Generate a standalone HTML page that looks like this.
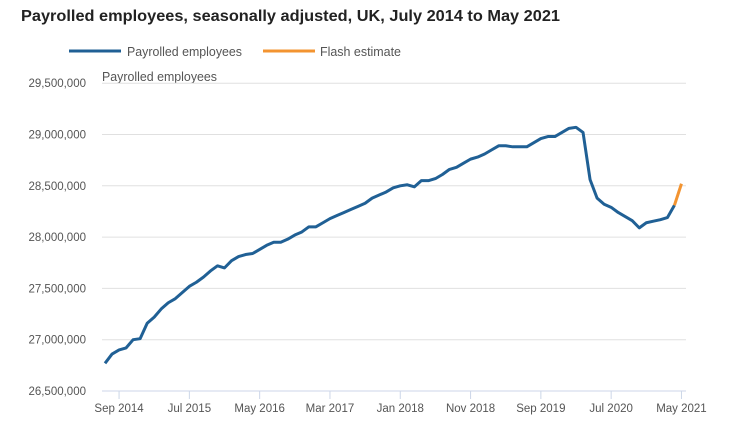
<!DOCTYPE html>
<html><head><meta charset="utf-8"><style>
body{margin:0;background:#fff;}
svg{display:block;font-family:"Liberation Sans",sans-serif;}
</style></head><body>
<svg id="chart" width="743" height="425" xmlns="http://www.w3.org/2000/svg">
<text x="21" y="21" font-size="16" font-weight="bold" fill="#222" textLength="539" lengthAdjust="spacingAndGlyphs">Payrolled employees, seasonally adjusted, UK, July 2014 to May 2021</text>
<g>
<g>
<line x1="69" y1="51" x2="121" y2="51" stroke="#206095" stroke-width="3"/>
<text x="127" y="56" font-size="13" fill="#555" textLength="115" lengthAdjust="spacingAndGlyphs">Payrolled employees</text></g>
<g>
<line x1="263" y1="51" x2="315" y2="51" stroke="#f39431" stroke-width="3"/>
<text x="320" y="56" font-size="13" fill="#555" textLength="81" lengthAdjust="spacingAndGlyphs">Flash estimate</text></g>
</g>
<text x="102" y="81" font-size="12.5" fill="#555" textLength="115" lengthAdjust="spacingAndGlyphs">Payrolled employees</text>
<g id="grid"></g><g id="yticks"></g><g id="xticks"></g><g id="series"></g>
</svg>
<script>
const yTicks=[26500000,27000000,27500000,28000000,28500000,29000000,29500000];
const yTickLabels=["26,500,000","27,000,000","27,500,000","28,000,000","28,500,000","29,000,000","29,500,000"];
const xTickMonths=[2,12,22,32,42,52,62,72,82];
const xTickLabels=["Sep 2014","Jul 2015","May 2016","Mar 2017","Jan 2018","Nov 2018","Sep 2019","Jul 2020","May 2021"];
const payrolled=[26.77,26.86,26.90,26.92,27.00,27.01,27.16,27.22,27.30,27.36,27.40,27.46,27.52,27.56,27.61,27.67,27.72,27.70,27.77,27.81,27.83,27.84,27.88,27.92,27.95,27.95,27.98,28.02,28.05,28.10,28.10,28.14,28.18,28.21,28.24,28.27,28.30,28.33,28.38,28.41,28.44,28.48,28.50,28.51,28.49,28.55,28.55,28.57,28.61,28.66,28.68,28.72,28.76,28.78,28.81,28.85,28.89,28.89,28.88,28.88,28.88,28.92,28.96,28.98,28.98,29.02,29.06,29.07,29.02,28.56,28.38,28.32,28.29,28.24,28.20,28.16,28.09,28.14,28.155,28.17,28.19,28.31];
const flash=[28.31,28.52];
const flashStart=81;
const NS="http://www.w3.org/2000/svg";
const X0=102,X1=686;
function xs(i){return 105+7.03*i;}
function ys(v){return 391-(v-26500000)/3000000*(391-83.2);}
function mk(t,a,p){const e=document.createElementNS(NS,t);for(const k in a)e.setAttribute(k,a[k]);p.appendChild(e);return e;}
const grid=document.getElementById('grid'),yt=document.getElementById('yticks'),xt=document.getElementById('xticks'),ser=document.getElementById('series');
yTicks.forEach((v,k)=>{
 const l=mk('line',{x1:X0,x2:X1,y1:ys(v),y2:ys(v),stroke:k==0?'#ccd6e8':'#e0e0e0','stroke-width':1},grid);
 
 
 const t=mk('text',{x:86,y:ys(v)+4,'font-size':11.5,fill:'#555','text-anchor':'end'},yt);
 t.textContent=yTickLabels[k];
 
 
});
xTickMonths.forEach((m,k)=>{
 const l=mk('line',{x1:xs(m),x2:xs(m),y1:391,y2:399,stroke:'#ccd6e8'},xt);
 
 
 const t=mk('text',{x:xs(m),y:412,'font-size':11.5,fill:'#555','text-anchor':'middle'},xt);
 t.textContent=xTickLabels[k];
 
 
});
const p1=mk('polyline',{points:payrolled.map((v,i)=>xs(i)+','+ys(v*1e6)).join(' '),fill:'none',stroke:'#206095','stroke-width':3,'stroke-linejoin':'round'},ser);


const p2=mk('polyline',{points:flash.map((v,i)=>xs(flashStart+i)+','+ys(v*1e6)).join(' '),fill:'none',stroke:'#f39431','stroke-width':3},ser);


</script>
</body></html>
